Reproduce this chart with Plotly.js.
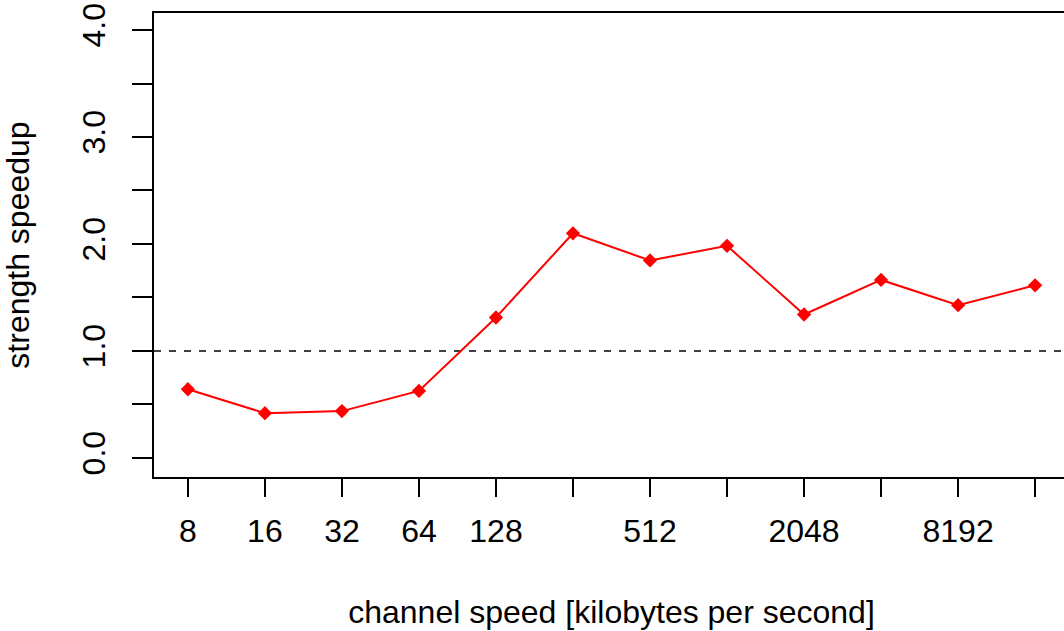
<!DOCTYPE html>
<html>
<head>
<meta charset="utf-8">
<script src="https://cdn.plot.ly/plotly-3.0.1.min.js"></script>
<style>
html,body{margin:0;padding:0;overflow:hidden;background:#fff;}
#chart{width:1080px;height:631px;}
</style>
</head>
<body>
<div id="chart"></div>
<script>
const channelSpeed = [8, 16, 32, 64, 128, 256, 512, 1024, 2048, 4096, 8192, 16384];
const speedup = [0.642, 0.419, 0.438, 0.627, 1.313, 2.10, 1.846, 1.983, 1.341, 1.664, 1.428, 1.614];
const xTickVals = [8, 16, 32, 64, 128, 256, 512, 1024, 2048, 4096, 8192, 16384];
const xTickText = ["8", "16", "32", "64", "128", "", "512", "", "2048", "", "8192", ""];
const yTickVals = [0, 0.5, 1, 1.5, 2, 2.5, 3, 3.5, 4];
const yTickText = ["0.0", "", "1.0", "", "2.0", "", "3.0", "", "4.0"];
const referenceLevel = 1.0;

const font = {family: "Liberation Sans, Arial, sans-serif", size: 32, color: "#000"};

const trace = {
  x: channelSpeed,
  y: speedup,
  type: "scatter",
  mode: "lines+markers",
  line: {color: "#ff0000", width: 2},
  marker: {symbol: "diamond", size: 11, color: "#ff0000"},
  showlegend: false
};

const l2 = Math.log10(2);
const layout = {
  width: 1080,
  height: 631,
  margin: {l: 154, r: 11, t: 13, b: 154},
  paper_bgcolor: "#fff",
  plot_bgcolor: "#fff",
  font: font,
  showlegend: false,
  xaxis: {
    type: "log",
    range: [2.56 * l2, 14.44 * l2],
    tickvals: xTickVals,
    ticktext: xTickText,
    ticks: "outside",
    ticklen: 18,
    tickwidth: 2,
    tickcolor: "#000",
    showline: true,
    linecolor: "#000",
    linewidth: 2,
    mirror: true,
    showgrid: false,
    zeroline: false,
    tickfont: font,
    ticklabelstandoff: 7,
    automargin: false,
    title: {text: "channel speed [kilobytes per second]", font: font, standoff: 52}
  },
  yaxis: {
    range: [-0.178, 4.159],
    tickvals: yTickVals,
    ticktext: yTickText,
    ticks: "outside",
    ticklen: 20,
    tickwidth: 2,
    tickcolor: "#000",
    tickangle: -90,
    showline: true,
    linecolor: "#000",
    linewidth: 2,
    mirror: true,
    showgrid: false,
    zeroline: false,
    tickfont: font,
    ticklabelstandoff: 14,
    automargin: false,
    title: {text: "strength speedup", font: font, standoff: 40}
  },
  shapes: [{
    type: "line",
    xref: "paper", x0: 0, x1: 1,
    yref: "y", y0: referenceLevel, y1: referenceLevel,
    line: {color: "#000", width: 1.5, dash: "7px,8px"},
    layer: "below"
  }]
};

Plotly.newPlot("chart", [trace], layout, {staticPlot: true, displayModeBar: false});
</script>
</body>
</html>
